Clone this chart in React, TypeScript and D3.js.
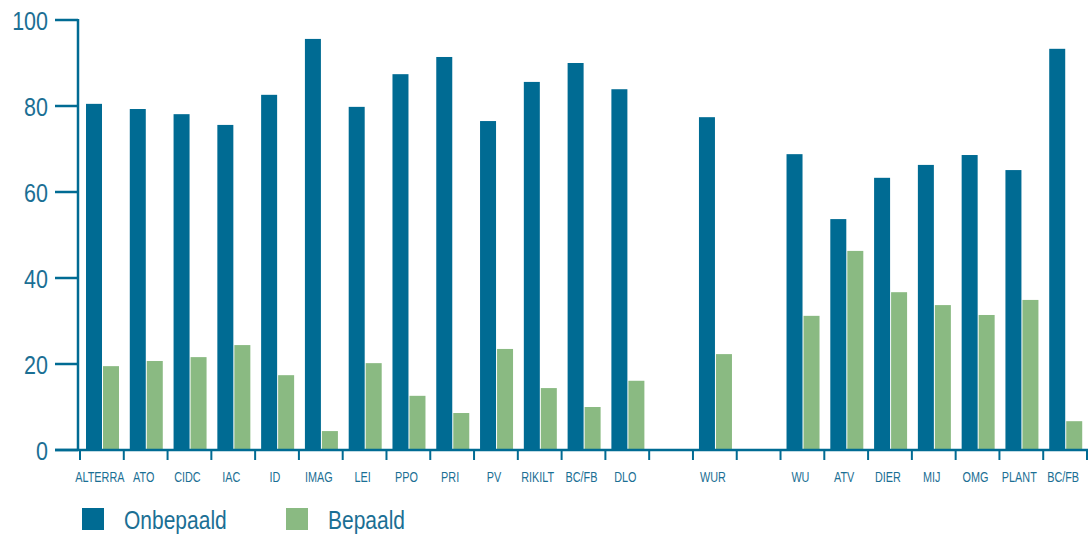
import React from "react";
import * as d3 from "d3";

const categories = ["ALTERRA","ATO","CIDC","IAC","ID","IMAG","LEI","PPO","PRI","PV","RIKILT","BC/FB","DLO","","WUR","","WU","ATV","DIER","MIJ","OMG","PLANT","BC/FB "];
const onbepaald: (number | null)[] = [80.5,79.3,78.1,75.6,82.6,95.6,79.8,87.4,91.4,76.5,85.6,90.0,83.9,null,77.4,null,68.8,53.7,63.3,66.3,68.6,65.1,93.3];
const bepaald: (number | null)[] = [19.5,20.7,21.6,24.4,17.4,4.4,20.2,12.6,8.6,23.5,14.4,10.0,16.1,null,22.3,null,31.2,46.3,36.7,33.7,31.4,34.9,6.7];
const yTicks = [0,20,40,60,80,100];
const seriesNames = ["Onbepaald","Bepaald"];

const DARK = "#006b93";
const GREEN = "#8aba82";
const TEXT = "#1b6f94";
const FONT = "'Liberation Sans Narrow', 'Liberation Sans', Arial, sans-serif";

function NarrowText(props: { x: number; y: number; sx: number; size: number; anchor: string; children: React.ReactNode }) {
  const { x, y, sx, size, anchor, children } = props;
  return (
    <text transform={`translate(${x},${y}) scale(${sx},1)`} textAnchor={anchor as any} dominantBaseline="central" fontFamily={FONT} fontSize={size} fill={TEXT}>{children}</text>
  );
}

export default function App() {
  const W = 1088, H = 537;
  const x0 = 80, x1 = 1087;
  const x = d3.scaleBand<number>().domain(d3.range(categories.length)).range([x0, x1]).paddingInner(0).paddingOuter(0);
  const y = d3.scaleLinear().domain([0, 100]).range([450, 20]);
  const bw = 16;
  return (
    <svg width={W} height={H} style={{ position: "absolute", left: 0, top: 0 }}>
      {categories.map((c, i) => {
        const s = x(i)!;
        const a = onbepaald[i], b = bepaald[i];
        return (
          <g key={i}>
            {a != null && <rect x={s + 6} y={y(a)} width={bw} height={y(0) - y(a)} fill={DARK} />}
            {b != null && <rect x={s + 6 + bw + 1} y={y(b)} width={bw} height={y(0) - y(b)} fill={GREEN} />}
          </g>
        );
      })}
      {/* y axis */}
      <line x1={78} x2={78} y1={y(100) - 1} y2={y(0)} stroke={DARK} strokeWidth={2.5} />
      {yTicks.map((t) => (
        <g key={t}>
          <line x1={55} x2={78} y1={y(t)} y2={y(t)} stroke={DARK} strokeWidth={2.5} />
          <NarrowText x={48} y={y(t) + 1} sx={0.86} size={25} anchor="end">{t}</NarrowText>
        </g>
      ))}
      {/* x axis */}
      <line x1={55} x2={1088} y1={y(0)} y2={y(0)} stroke={DARK} strokeWidth={2.5} />
      {d3.range(categories.length + 1).map((i) => {
        const px = i < categories.length ? x(i)! : x1;
        return <line key={i} x1={px} x2={px} y1={y(0)} y2={y(0) + 10} stroke={DARK} strokeWidth={2} />;
      })}
      {categories.map((c, i) => (
        <NarrowText key={"l" + i} x={x(i)! + x.bandwidth() / 2 - 2} y={477} sx={0.7} size={15.5} anchor="middle">{c.trim()}</NarrowText>
      ))}
      {/* legend */}
      {seriesNames.map((n, i) => (
        <g key={n} transform={`translate(${i === 0 ? 82 : 286},508)`}>
          <rect width={22} height={22} fill={i === 0 ? DARK : GREEN} />
          <NarrowText x={42} y={12} sx={0.84} size={25} anchor="start">{n}</NarrowText>
        </g>
      ))}
    </svg>
  );
}
